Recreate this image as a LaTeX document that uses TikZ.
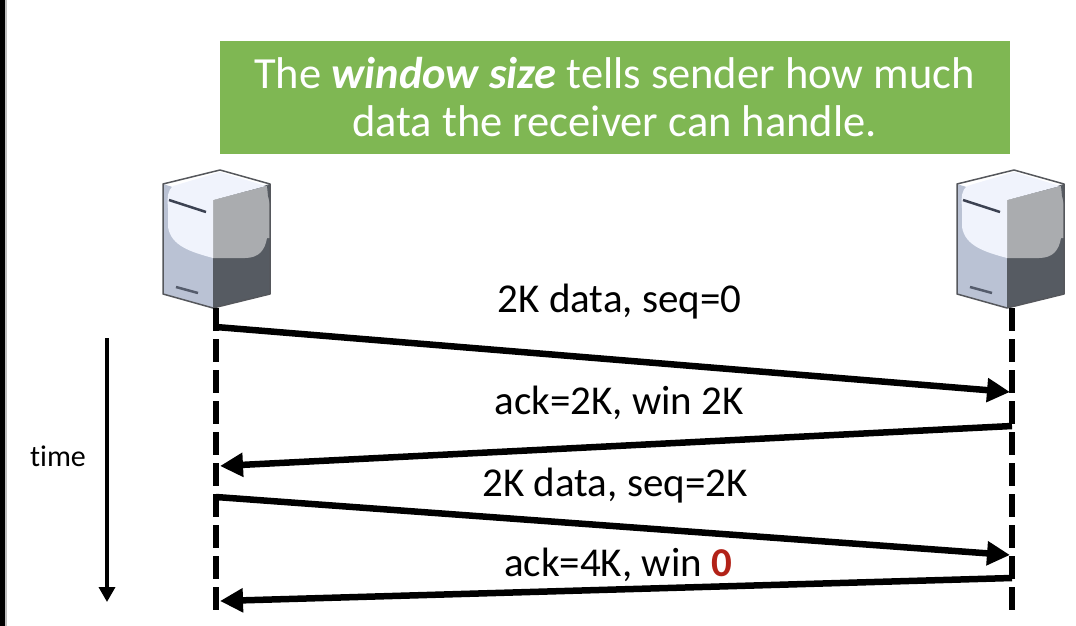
\documentclass[tikz,border=0pt]{standalone}
\usepackage{fontspec}
\setmainfont[Ligatures=NoCommon]{Carlito}
\usetikzlibrary{arrows.meta}
\definecolor{bannergreen}{RGB}{127,183,83}
\definecolor{zerored}{RGB}{178,34,24}
\definecolor{caselight}{RGB}{240,243,252}
\definecolor{caseblue}{RGB}{186,194,212}
\definecolor{casegrey}{RGB}{170,172,175}
\definecolor{casedark}{RGB}{86,91,98}
\definecolor{caseedge}{RGB}{85,87,92}
\definecolor{caseslot}{RGB}{60,66,82}
\tikzset{
  banner/.style={fill=bannergreen, draw=none, inner sep=0pt, minimum width=790pt, minimum height=113pt, text=white, align=center, font=\fontsize{44.5}{48}\selectfont},
  msglabel/.style={inner sep=0pt, font=\fontsize{41}{48}\selectfont},
  lifeline/.style={line width=6.5pt, dash pattern=on 23pt off 8pt},
  msgarrow/.style={line width=6.5pt, -{Triangle[length=23pt,width=23pt]}},
  timearrow/.style={line width=3.5pt, -{Triangle[length=15pt,width=16pt]}},
  server/.pic={
    \fill[caseblue] (-50,-14) -- (-50,-124) -- (0,-108) -- (0,0) -- cycle;
    \fill[casedark] (57,-14) -- (57,-124) -- (0,-108) -- (0,0) -- cycle;
    \fill[casegrey] (0,-108) -- (54,-122) -- (54,-70) .. controls (52,-58) and (46,-50) .. (32,-50) -- (0,-50) -- cycle;
    \fill[casegrey] (54,-122) -- (57,-124) -- (57,-70) -- (54,-70) -- cycle;
    \fill[casedark] (54,-122) -- (57,-124) -- (57,-104) -- (55,-112) -- cycle;
    \fill[caselight] (-45,-81) .. controls (-42,-62) and (-22,-56) .. (0,-50) -- (0,-108) -- (53,-122) -- (7,-136) -- (-40,-122) .. controls (-45,-118) and (-46,-112) .. (-45,-100) -- cycle;
    \draw[caseedge, line width=1.5pt, line join=round] (0,0) -- (-50,-14) -- (-50,-124) -- (7,-138) -- (57,-124) -- (57,-14) -- cycle;
    \draw[caseslot, line width=2.5pt] (-44,-108) -- (-7,-96);
    \draw[caseslot!80!caseblue, line width=2.5pt] (-37,-21) -- (-15,-15);
  }
}
\begin{document}
\begin{tikzpicture}[x=1pt,y=-1pt]
\useasboundingbox (0,0) rectangle (1076,626);
\fill[black] (0,0) rectangle (5,626);
\fill[black!25] (5,0) rectangle (6.5,626);

\node[banner] (banner) at (614.5,97.5) {The \textbf{\textit{window size}} tells sender how much\\data the receiver can handle.};

\pic at (213,308) {server};
\pic at (1007,308) {server};

\coordinate (senderTop) at (216,308);
\coordinate (senderEnd) at (216,610);
\coordinate (receiverTop) at (1012,308);
\coordinate (receiverEnd) at (1012,610);
\draw[lifeline] (senderTop) -- (senderEnd);
\draw[lifeline] (receiverTop) -- (receiverEnd);

\coordinate (dataA) at (216,327);
\coordinate (dataAin) at (1010,392);
\coordinate (ackA) at (1012,426);
\coordinate (ackAin) at (220,466);
\coordinate (dataB) at (216,497);
\coordinate (dataBin) at (1010,555);
\coordinate (ackB) at (1012,578);
\coordinate (ackBin) at (220,601);
\draw[msgarrow] (dataA) -- (dataAin);
\draw[msgarrow] (ackA) -- (ackAin);
\draw[msgarrow] (dataB) -- (dataBin);
\draw[msgarrow] (ackB) -- (ackBin);

\node[msglabel] (labelDataA) at (619.5,301.5) {2K data, seq=0};
\node[msglabel] (labelAckA) at (619,402.5) {ack=2K, win 2K};
\node[msglabel] (labelDataB) at (615,485.5) {2K data, seq=2K};
\node[msglabel] (labelAckB) at (618,565) {ack=4K, win \textcolor{zerored}{\textbf{0}}};

\coordinate (timeTop) at (107,338);
\coordinate (timeEnd) at (107,602);
\draw[timearrow] (timeTop) -- (timeEnd);
\node[inner sep=0pt, font=\fontsize{30}{36}\selectfont] (timeLabel) at (58,456) {time};
\end{tikzpicture}
\end{document}
